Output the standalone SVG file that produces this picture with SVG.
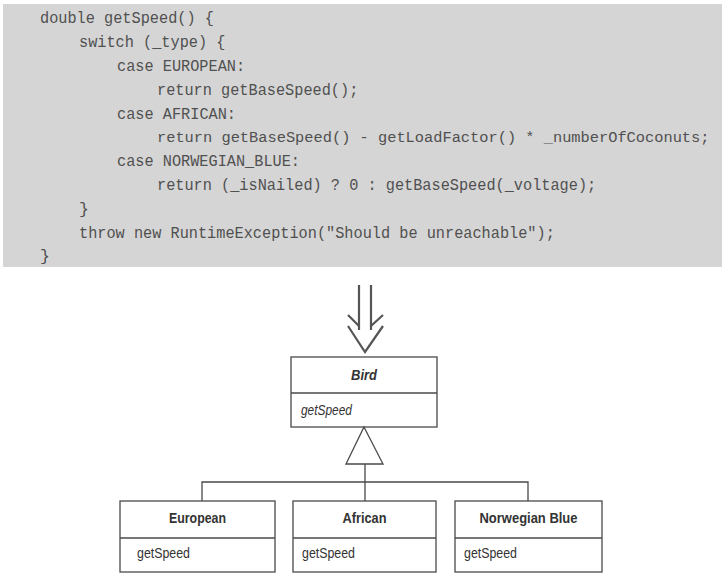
<svg xmlns="http://www.w3.org/2000/svg" width="726" height="579" viewBox="0 0 726 579">
<style>
.code{font-family:"Liberation Mono","DejaVu Sans Mono",monospace;font-size:16.5px;fill:#505050}
.box{fill:#ffffff;stroke:#4a4a4a;stroke-width:1.3}
.ln{fill:none;stroke:#4a4a4a;stroke-width:1.3}
.nm{font-family:"Liberation Sans",Arial,sans-serif;font-size:15px;font-weight:bold;fill:#333;text-anchor:middle}
.op{font-family:"Liberation Sans",Arial,sans-serif;font-size:14px;fill:#333}
.it{font-style:italic}
</style>
<rect width="726" height="579" fill="#ffffff"/>
<g id="code">
<rect x="3" y="4" width="719" height="263" fill="#d5d5d5"/>
<text class="code" x="40" y="23" textLength="173.9" lengthAdjust="spacingAndGlyphs">double getSpeed() {</text>
<text class="code" x="79" y="47" textLength="146.4" lengthAdjust="spacingAndGlyphs">switch (_type) {</text>
<text class="code" x="117" y="71" textLength="128.1" lengthAdjust="spacingAndGlyphs">case EUROPEAN:</text>
<text class="code" x="157" y="95" textLength="201.3" lengthAdjust="spacingAndGlyphs">return getBaseSpeed();</text>
<text class="code" x="117" y="119" textLength="119" lengthAdjust="spacingAndGlyphs">case AFRICAN:</text>
<text class="code" x="157" y="142" style="font-size:15.35px">return getBaseSpeed() - getLoadFactor() * _numberOfCoconuts;</text>
<text class="code" x="117" y="166" textLength="183" lengthAdjust="spacingAndGlyphs">case NORWEGIAN_BLUE:</text>
<text class="code" x="157" y="190" textLength="439.2" lengthAdjust="spacingAndGlyphs">return (_isNailed) ? 0 : getBaseSpeed(_voltage);</text>
<text class="code" x="79" y="214">}</text>
<text class="code" x="79" y="238" textLength="475.8" lengthAdjust="spacingAndGlyphs">throw new RuntimeException("Should be unreachable");</text>
<text class="code" x="40" y="261">}</text>
</g>
<g id="arrow" fill="none" stroke="#555" stroke-width="2.2">
<path d="M359,285 V330 M371,285 V330"/>
<path d="M348,315 L359,326 M383,315 L371,326"/>
<path d="M348,326 L365,352 L383,326"/>
</g>
<g id="bird">
<rect class="box" x="291" y="357" width="146" height="70"/>
<line class="ln" x1="291" y1="393" x2="437" y2="393"/>
<text class="nm it" x="364" y="380" textLength="26" lengthAdjust="spacingAndGlyphs">Bird</text>
<text class="op it" x="301" y="415" textLength="51" lengthAdjust="spacingAndGlyphs">getSpeed</text>
</g>
<g id="connectors">
<path class="ln" d="M364,427 L383,464 L346,464 Z"/>
<path class="ln" d="M365,464 V501 M202,501 V482 H528 V501"/>
</g>
<g id="european">
<rect class="box" x="120" y="501" width="155" height="71"/>
<line class="ln" x1="120" y1="538" x2="275" y2="538"/>
<text class="nm" x="197.5" y="523" textLength="57" lengthAdjust="spacingAndGlyphs">European</text>
<text class="op" x="137" y="558" textLength="53" lengthAdjust="spacingAndGlyphs">getSpeed</text>
</g>
<g id="african">
<rect class="box" x="293" y="501" width="143" height="71"/>
<line class="ln" x1="293" y1="538" x2="436" y2="538"/>
<text class="nm" x="364.5" y="523" textLength="44" lengthAdjust="spacingAndGlyphs">African</text>
<text class="op" x="302" y="558" textLength="53" lengthAdjust="spacingAndGlyphs">getSpeed</text>
</g>
<g id="norwegian">
<rect class="box" x="455" y="501" width="147" height="71"/>
<line class="ln" x1="455" y1="538" x2="602" y2="538"/>
<text class="nm" x="528.5" y="523" textLength="98" lengthAdjust="spacingAndGlyphs">Norwegian Blue</text>
<text class="op" x="464" y="558" textLength="53" lengthAdjust="spacingAndGlyphs">getSpeed</text>
</g>
</svg>
